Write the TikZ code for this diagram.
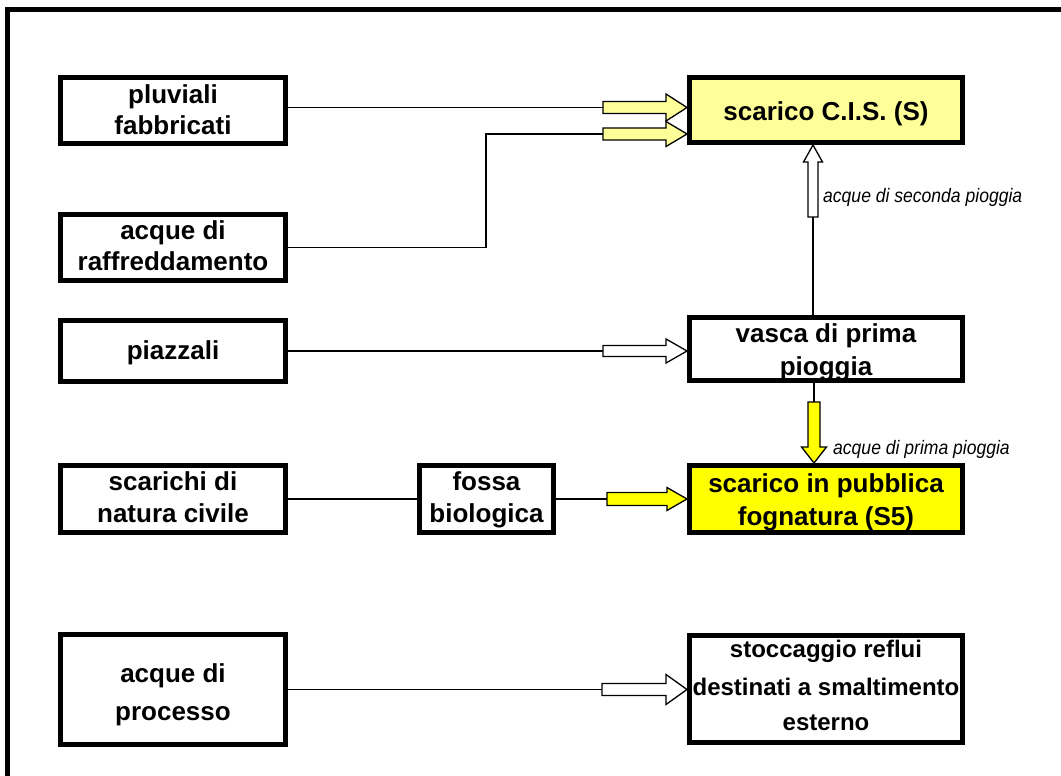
\documentclass[tikz,border=0pt]{standalone}
\usepackage{graphicx}
\usepackage{fontspec}
\setmainfont{Liberation Sans}
\usetikzlibrary{calc}
\definecolor{lightyel}{RGB}{255,255,153}
\definecolor{yel}{RGB}{255,255,0}
% fat block arrow: #1 tail, #2 tip, #3 shaft half width, #4 head half width, #5 head length, #6 fill
\newcommand\fatarrow[6]{%
  \path (#1) coordinate (fa-t) (#2) coordinate (fa-p);
  \path ($(fa-p)!#5!(fa-t)$) coordinate (fa-b);
  \draw[fatline, fill=#6]
    ($(fa-t)!#3!90:(fa-p)$) -- ($(fa-b)!#3!90:(fa-p)$) -- ($(fa-b)!#4!90:(fa-p)$) --
    (fa-p) -- ($(fa-b)!#4!-90:(fa-p)$) -- ($(fa-b)!#3!-90:(fa-p)$) --
    ($(fa-t)!#3!-90:(fa-p)$) -- cycle;
}
\tikzset{
  box/.style={draw, line width=5pt, inner sep=0pt},
  txt/.style={inner sep=0pt, anchor=base, font=\fontsize{26}{32}\selectfont\bfseries},
  txtsm/.style={inner sep=0pt, anchor=base, font=\fontsize{24}{30}\selectfont\bfseries},
  lab/.style={inner sep=0pt, anchor=base west, font=\fontsize{19.5}{22}\selectfont\itshape},
  conn/.style={line width=1.5pt},
  fatline/.style={line width=1.3pt, line join=miter},
  frame/.style={line width=4.5pt}
}
\begin{document}
\begin{tikzpicture}[x=1pt,y=-1pt]
\useasboundingbox (0,0) rectangle (1061,776);
% outer frame (only top and left visible)
\draw[frame] (7.5,776) -- (7.5,9.5) -- (1061,9.5);

% left column boxes
\node[box, minimum width=225pt, minimum height=66pt] (pluv) at (173,110.5) {};
\node[box, minimum width=225pt, minimum height=66pt] (raff) at (173,247.5) {};
\node[box, minimum width=225pt, minimum height=61pt] (piaz) at (173,351) {};
\node[box, minimum width=225pt, minimum height=67pt] (scar) at (173,499) {};
\node[box, minimum width=225pt, minimum height=110pt] (proc) at (173,689.5) {};
% middle
\node[box, minimum width=134pt, minimum height=67pt] (fossa) at (486.5,499) {};
% right column
\node[box, fill=lightyel, minimum width=273pt, minimum height=65pt] (cis) at (826,110) {};
\node[box, minimum width=273pt, minimum height=63pt] (vasca) at (826,349) {};
\node[box, fill=yel, minimum width=273pt, minimum height=67pt] (s5) at (826,499) {};
\node[box, minimum width=273pt, minimum height=107pt] (stoc) at (826,689) {};

% texts
\node[txt] at (173,103) {pluviali};
\node[txt] at (173,134) {fabbricati};
\node[txt] at (173,239) {acque di};
\node[txt] at (173,270) {raffreddamento};
\node[txt] at (173,359) {piazzali};
\node[txt] at (173,490) {scarichi di};
\node[txt] at (173,522) {natura civile};
\node[txt] at (173,682) {acque di};
\node[txt] at (173,720) {processo};
\node[txt] at (486.5,490) {fossa};
\node[txt] at (486.5,522) {biologica};
\node[txt] at (826,121) {scarico C.I.S. (S)};
\node[txt] at (826,342) {vasca di prima};
\node[txt] at (826,375) {pioggia};
\node[txt] at (826,492) {scarico in pubblica};
\node[txt] at (826,525) {fognatura (S5)};
\node[txtsm] at (826,657) {stoccaggio reflui};
\node[txtsm] at (826,695) {destinati a smaltimento};
\node[txtsm] at (826,730) {esterno};

% connector tails
\coordinate (t1) at (603,107.5);
\coordinate (t2) at (603,134);
\coordinate (k2) at (486,134);
\coordinate (t3) at (603,351);
\coordinate (t4) at (607,499);
\coordinate (t5) at (602,689.5);
\coordinate (t6) at (813,217);
\coordinate (t7) at (814,402);

% thin lines
\draw[conn] (pluv.east |- t1) -- (t1);
\draw[conn] (raff.east) -| (k2) -- (t2);
\draw[conn] (piaz.east |- t3) -- (t3);
\draw[conn] (scar.east) -- (fossa.west);
\draw[conn] (fossa.east |- t4) -- (t4);
\draw[conn] (proc.east |- t5) -- (t5);
\draw[conn] (vasca.north -| t6) -- (t6);
\draw[conn] (vasca.south -| t7) -- (t7);

% fat arrows
\fatarrow{t1}{cis.west |- t1}{6pt}{13.5pt}{21pt}{lightyel}
\fatarrow{t2}{cis.west |- t2}{6pt}{12.5pt}{21pt}{lightyel}
\fatarrow{t3}{vasca.west |- t3}{5.5pt}{12pt}{21pt}{white}
\fatarrow{t4}{s5.west |- t4}{6.5pt}{11.5pt}{20pt}{yel}
\fatarrow{t5}{stoc.west |- t5}{6pt}{15pt}{21pt}{white}
\fatarrow{t6}{cis.south -| t6}{5pt}{9.5pt}{17pt}{white}
\fatarrow{t7}{s5.north -| t7}{6pt}{12.5pt}{16pt}{yel}

% italic labels
\node[lab] (l1) at (823,202) {\scalebox{0.9}[1]{acque di seconda pioggia}};
\node[lab] (l2) at (833,454) {\scalebox{0.9}[1]{acque di prima pioggia}};
\end{tikzpicture}
\end{document}
